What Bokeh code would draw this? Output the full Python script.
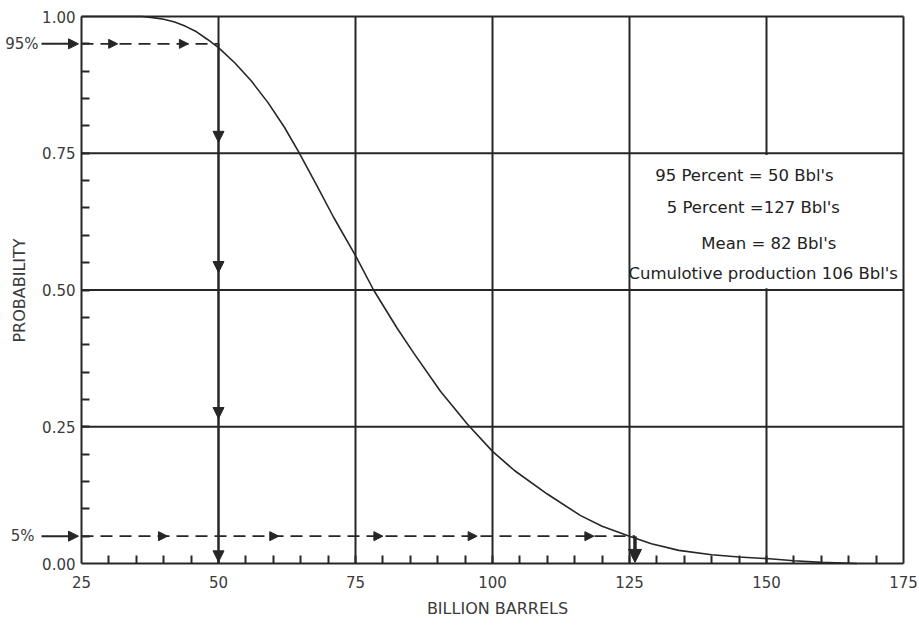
import math
from bokeh.plotting import figure
from bokeh.models import (Range1d, FixedTicker, PrintfTickFormatter, Label, Arrow,
                          NormalHead, LinearAxis)
from bokeh.embed import file_html
from bokeh.resources import INLINE

# ---- data ----
barrels = [25, 30, 35, 36, 38, 40, 42, 44, 46, 48, 50, 53, 56, 59, 62, 64.6, 68, 71, 75,
           78.3, 82.6, 85.6, 90.5, 95.4, 100, 104, 110, 116, 120, 125, 129, 134, 140,
           145, 150, 155, 160, 166.5]
probability = [1.0, 1.0, 1.0, 1.0, 0.998, 0.995, 0.99, 0.982, 0.972, 0.958, 0.943, 0.915,
               0.882, 0.843, 0.798, 0.753, 0.69, 0.633, 0.563, 0.5, 0.43, 0.385, 0.315,
               0.255, 0.205, 0.17, 0.127, 0.088, 0.068, 0.05, 0.036, 0.024, 0.016, 0.012,
               0.009, 0.005, 0.002, 0.0]

level_hi = 0.95          # 95 % level
level_lo = 0.05          # 5 % level
x_hi = 50                # barrels at 95 %
x_lo = 126               # barrels at 5 % (as drawn)
hi_arrow_x = [31.6, 44.5]
lo_arrow_x = [40.7, 61.0, 80.0, 97.2, 118.5]
down_arrow_y = [0.77, 0.532, 0.265, 0.003]

x_min, x_max = 25, 175
y_min, y_max = 0.0, 1.0
x_major = [25, 50, 75, 100, 125, 150, 175]
x_minor = list(range(30, 175, 5))
y_major = [0.0, 0.25, 0.5, 0.75, 1.0]
y_minor = [round(0.05 * i, 2) for i in range(1, 20)]
x_grid = [50, 75, 100, 125, 150]
y_grid = [0.25, 0.5, 0.75]

x_title = "BILLION BARRELS"
y_title = "PROBABILITY"
notes = ["95 Percent = 50 Bbl's", "5 Percent =127 Bbl's", "Mean = 82 Bbl's",
         "Cumulotive production 106 Bbl's"]
note_x = [129.7, 131.8, 138.1, 124.8]
note_y = [0.709, 0.651, 0.585, 0.530]

INK = "#262626"
TXT = "#3a3a3a"
FONT = "DejaVu Sans"

# layout: the chart box is 822 x 547 px with its corners at (81,16) and (903,563) on a
# 919 x 625 canvas; the frame covers the whole canvas so the call-outs and titles that
# sit outside the box can be drawn as well.
W, H = 919, 625
BOX_L, BOX_R, BOX_T, BOX_B = 81, 903, 16, 563
ppx = (BOX_R - BOX_L) / (x_max - x_min)
ppy = (BOX_B - BOX_T) / (y_max - y_min)
xr = Range1d(x_min - BOX_L / ppx, x_max + (W - BOX_R) / ppx)
yr = Range1d(y_min - (H - BOX_B) / ppy, y_max + BOX_T / ppy)

def xd(px):   # canvas px -> data x
    return x_min + (px - BOX_L) / ppx

def yd(py):   # canvas px -> data y
    return y_min + (BOX_B - py) / ppy

p = figure(width=W, height=H, x_range=xr, y_range=yr, x_axis_location=None,
           y_axis_location=None, output_backend="svg", toolbar_location=None,
           min_border=0)
p.background_fill_color = "white"
p.border_fill_color = "white"
p.outline_line_color = None
p.grid.visible = False

xax = LinearAxis(fixed_location=y_min, bounds=(x_min, x_max))
yax = LinearAxis(fixed_location=x_min, bounds=(y_min, y_max))
p.add_layout(xax, "below")
p.add_layout(yax, "left")

for ax in (xax, yax):
    ax.axis_line_color = INK
    ax.axis_line_width = 2
    ax.major_tick_in = 0
    ax.major_tick_out = 0
    ax.minor_tick_in = 8
    ax.minor_tick_out = 0
    ax.minor_tick_line_color = INK
    ax.minor_tick_line_width = 2
    ax.major_label_text_font = FONT
    ax.major_label_text_font_size = "15px"
    ax.major_label_text_color = TXT

xax.ticker = FixedTicker(ticks=x_major, minor_ticks=x_minor)
yax.ticker = FixedTicker(ticks=y_major, minor_ticks=y_minor)
yax.formatter = PrintfTickFormatter(format="%.2f")
xax.major_label_standoff = 12
yax.major_label_standoff = 6

# grid lines of the chart box
n_x, n_y = len(x_grid), len(y_grid)
p.segment(x0=x_grid, y0=[y_min] * n_x, x1=x_grid, y1=[y_max] * n_x,
          line_color=INK, line_width=2)
p.segment(x0=[x_min] * n_y, y0=y_grid, x1=[x_max] * n_y, y1=y_grid,
          line_color=INK, line_width=2)

# white box behind the notes (hides the 150 gridline)
p.quad(left=x_grid[3] + 0.25, right=x_max, bottom=y_grid[1] + 0.003,
       top=y_grid[2] - 0.003, fill_color="white", line_color=None)

# top and right edges of the chart box
p.line([x_min, x_max], [y_max, y_max], line_color=INK, line_width=2)
p.line([x_max, x_max], [y_min, y_max], line_color=INK, line_width=2)

# curve
p.line(barrels, probability, line_color=INK, line_width=1.6)

# dashed guide lines
p.line([x_min, x_hi], [level_hi, level_hi], line_color=INK, line_width=1.6, line_dash="12 7")
p.line([x_min, x_lo], [level_lo, level_lo], line_color=INK, line_width=1.6, line_dash="12 7")
# vertical drop at 50
p.line([x_hi, x_hi], [level_hi, y_min], line_color=INK, line_width=2)

def head(sz):
    return NormalHead(size=sz, fill_color=INK, line_color=INK, line_width=1)

for xa in hi_arrow_x:
    p.add_layout(Arrow(end=head(9), x_start=xa - 1, y_start=level_hi, x_end=xa,
                       y_end=level_hi, line_alpha=0))
for xa in lo_arrow_x:
    p.add_layout(Arrow(end=head(9), x_start=xa - 1, y_start=level_lo, x_end=xa,
                       y_end=level_lo, line_alpha=0))
for ya in down_arrow_y:
    p.add_layout(Arrow(end=head(11), x_start=x_hi, y_start=ya + 0.02, x_end=x_hi,
                       y_end=ya, line_alpha=0))
# thick arrow at the 5 % point
p.add_layout(Arrow(end=head(13), x_start=x_lo, y_start=level_lo, x_end=x_lo, y_end=0.002,
                   line_color=INK, line_width=3.5))

# call-outs left of the chart box
for lev, lab, lpx in ((level_hi, "95%", 38), (level_lo, "5%", 34)):
    p.add_layout(Arrow(end=head(10), x_start=xd(41), y_start=lev, x_end=xd(78), y_end=lev,
                       line_color=INK, line_width=2))
    p.add_layout(Label(x=xd(lpx), y=lev, text=lab, text_align="right",
                       text_baseline="middle", text_font=FONT, text_font_size="15px",
                       text_color=TXT))

# axis titles
p.add_layout(Label(x=xd(497), y=yd(608), text=x_title, text_align="center",
                   text_baseline="middle", text_font=FONT, text_font_size="16px",
                   text_color=TXT))
p.add_layout(Label(x=xd(19), y=yd(290), text=y_title, text_align="center",
                   text_baseline="middle", angle=math.pi / 2, text_font=FONT,
                   text_font_size="16px", text_color=TXT))

# notes
for t, xx, yy in zip(notes, note_x, note_y):
    p.add_layout(Label(x=xx, y=yy, text=t, text_align="left", text_baseline="middle",
                       text_font=FONT, text_font_size="16.5px", text_color="#222222"))

open("out.html", "w").write(file_html(p, INLINE))
